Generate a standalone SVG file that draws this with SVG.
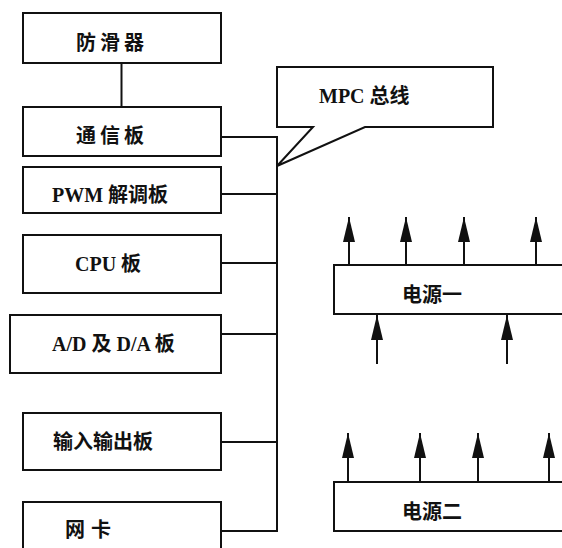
<svg xmlns="http://www.w3.org/2000/svg" width="562" height="548" viewBox="0 0 562 548">
<defs>
<style>
.box{fill:#fff;stroke:#111;stroke-width:2}
.ln{fill:none;stroke:#111;stroke-width:2}
.t{font-family:"Liberation Serif","Noto Sans CJK SC",serif;font-size:20px;fill:#111;font-weight:bold}
.c{font-family:"Noto Sans CJK SC",sans-serif;font-size:20px;fill:#111;font-weight:bold}
</style>
<marker id="ah" viewBox="0 0 25 12" refX="25" refY="6" markerWidth="25" markerHeight="12" markerUnits="userSpaceOnUse" orient="auto">
<path d="M25 6 L0 0 L0 12 Z" fill="#111"/>
</marker>
</defs>
<g id="connectors">
<line class="ln" x1="121.5" y1="63" x2="121.5" y2="107"/>
<path class="ln" d="M221 137 H277 V531 H221"/>
<line class="ln" x1="221" y1="194" x2="277" y2="194"/>
<line class="ln" x1="221" y1="263" x2="277" y2="263"/>
<line class="ln" x1="221" y1="334" x2="277" y2="334"/>
<line class="ln" x1="221" y1="442" x2="277" y2="442"/>
<g id="arrows1">
<line class="ln" x1="349" y1="265" x2="349" y2="217" marker-end="url(#ah)"/>
<line class="ln" x1="406" y1="265" x2="406" y2="217" marker-end="url(#ah)"/>
<line class="ln" x1="464" y1="265" x2="464" y2="217" marker-end="url(#ah)"/>
<line class="ln" x1="536" y1="265" x2="536" y2="217" marker-end="url(#ah)"/>
<line class="ln" x1="377" y1="364" x2="377" y2="315" marker-end="url(#ah)"/>
<line class="ln" x1="507" y1="364" x2="507" y2="315" marker-end="url(#ah)"/>
</g>
<g id="arrows2">
<line class="ln" x1="348" y1="482" x2="348" y2="433" marker-end="url(#ah)"/>
<line class="ln" x1="420" y1="482" x2="420" y2="433" marker-end="url(#ah)"/>
<line class="ln" x1="478" y1="482" x2="478" y2="433" marker-end="url(#ah)"/>
<line class="ln" x1="549" y1="482" x2="549" y2="433" marker-end="url(#ah)"/>
</g>
</g>
<g id="fanghuaqi"><rect class="box" x="23" y="13" width="198" height="50"/><text class="c" x="76" y="50" letter-spacing="4">防滑器</text></g>
<g id="tongxinban"><rect class="box" x="23" y="107" width="198" height="49"/><text class="c" x="76" y="143" letter-spacing="4">通信板</text></g>
<g id="pwm"><rect class="box" x="23" y="167" width="198" height="46"/><text class="t" x="52" y="202">PWM 解调板</text></g>
<g id="cpu"><rect class="box" x="23" y="235" width="198" height="58"/><text class="t" x="75" y="271">CPU 板</text></g>
<g id="adda"><rect class="box" x="10" y="315" width="211" height="58"/><text class="t" x="52" y="351">A/D 及 D/A 板</text></g>
<g id="io"><rect class="box" x="23" y="413" width="198" height="57"/><text class="c" x="53" y="449">输入输出板</text></g>
<g id="wangka"><rect class="box" x="23" y="502" width="198" height="60"/><text class="c" x="65" y="537" letter-spacing="6">网卡</text></g>
<g id="mpc"><path class="box" d="M277 67 H493 V127 H365 L277 166 L313 127 H277 Z"/><text class="t" x="319" y="103">MPC 总线</text></g>
<g id="power1"><rect class="box" x="334" y="265" width="240" height="49"/><text class="c" x="402" y="302">电源一</text></g>
<g id="power2"><rect class="box" x="334" y="482" width="240" height="49"/><text class="c" x="402" y="519">电源二</text></g>
</svg>
